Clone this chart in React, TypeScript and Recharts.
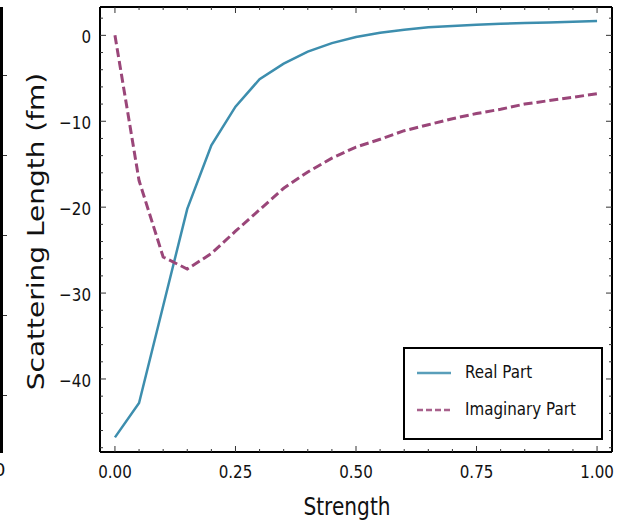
import React from 'react';
import { LineChart, Line, XAxis, YAxis, Legend } from 'recharts';

// coupling strength sampled every 0.05
const STRENGTH = [0, 0.05, 0.1, 0.15, 0.2, 0.25, 0.3, 0.35, 0.4, 0.45, 0.5, 0.55, 0.6, 0.65, 0.7, 0.75, 0.8, 0.85, 0.9, 0.95, 1.0];
const REAL_PART = [-46.8, -42.8, -31.5, -20.2, -12.8, -8.3, -5.1, -3.3, -1.9, -0.9, -0.2, 0.3, 0.66, 0.93, 1.1, 1.24, 1.36, 1.43, 1.5, 1.58, 1.66];
const IMAG_PART = [0, -16.9, -25.8, -27.2, -25.4, -22.8, -20.3, -17.8, -15.9, -14.3, -13.0, -12.1, -11.1, -10.4, -9.7, -9.1, -8.6, -8.0, -7.6, -7.2, -6.8];

const X_MAJOR = [0, 0.25, 0.5, 0.75, 1.0];
const X_TICKS = [0, 0.05, 0.1, 0.15, 0.2, 0.25, 0.3, 0.35, 0.4, 0.45, 0.5, 0.55, 0.6, 0.65, 0.7, 0.75, 0.8, 0.85, 0.9, 0.95, 1.0];
const Y_MAJOR = [-40, -30, -20, -10, 0];
const Y_TICKS = [-48, -46, -44, -42, -40, -38, -36, -34, -32, -30, -28, -26, -24, -22, -20, -18, -16, -14, -12, -10, -8, -6, -4, -2, 0, 2];

const rows = STRENGTH.map((s, i) => ({ s, real: REAL_PART[i], imag: IMAG_PART[i] }));

const FONT = '"DejaVu Sans", sans-serif';
const SQUEEZE = 0.84;
const TICK_COLOR = '#333';
const X_DOMAIN = [-0.031, 1.031];
const Y_DOMAIN = [-48.5, 3.3];

const isMajorX = (v: number) => X_MAJOR.some((m) => Math.abs(m - v) < 1e-6);
const isMajorY = (v: number) => Y_MAJOR.some((m) => Math.abs(m - v) < 1e-6);

const BottomTick = (props: any) => {
  const { x, y, payload } = props;
  const major = isMajorX(payload.value);
  return (
    <g>
      <line x1={x} y1={y} x2={x} y2={y - (major ? 6 : 3)} stroke={TICK_COLOR} strokeWidth={1} />
      {major && (
        <text transform={`translate(${x},${y + 26}) scale(${SQUEEZE},1)`} textAnchor="middle" fontSize={18} fontFamily={FONT} fill="#111">
          {payload.value.toFixed(2)}
        </text>
      )}
    </g>
  );
};

const TopTick = (props: any) => {
  const { x, y, payload } = props;
  const major = isMajorX(payload.value);
  return <line x1={x} y1={y} x2={x} y2={y + (major ? 6 : 3)} stroke={TICK_COLOR} strokeWidth={1} />;
};

const LeftTick = (props: any) => {
  const { x, y, payload } = props;
  const major = isMajorY(payload.value);
  const label = payload.value < 0 ? `\u2212${Math.abs(payload.value)}` : `${payload.value}`;
  return (
    <g>
      <line x1={x} y1={y} x2={x + (major ? 6 : 3)} y2={y} stroke={TICK_COLOR} strokeWidth={1} />
      {major && (
        <text transform={`translate(${x - 9},${y + 8}) scale(${SQUEEZE},1)`} textAnchor="end" fontSize={18} fontFamily={FONT} fill="#111">
          {label}
        </text>
      )}
    </g>
  );
};

const RightTick = (props: any) => {
  const { x, y, payload } = props;
  const major = isMajorY(payload.value);
  return <line x1={x} y1={y} x2={x - (major ? 6 : 3)} y2={y} stroke={TICK_COLOR} strokeWidth={1} />;
};

const YTitle = (props: any) => {
  const { viewBox } = props;
  const cy = viewBox.y + viewBox.height / 2 + 2;
  return (
    <text transform={`translate(44,${cy}) scale(${SQUEEZE},1) rotate(-90)`} textAnchor="middle" fontSize={28} fontFamily={FONT} fill="#111">
      Scattering Length (fm)
    </text>
  );
};

const XTitle = (props: any) => {
  const { viewBox } = props;
  const cx = viewBox.x + viewBox.width / 2 - 9;
  return (
    <text transform={`translate(${cx},515) scale(${SQUEEZE},1)`} textAnchor="middle" fontSize={24} fontFamily={FONT} fill="#111">
      Strength
    </text>
  );
};

const LegendBox = (props: any) => {
  const seen = new Set<string>();
  const entries = (props.payload || []).filter((e: any) => {
    if (e.color === 'none' || e.type === 'none' || seen.has(e.dataKey)) return false;
    seen.add(e.dataKey);
    return true;
  });
  const order = ['real', 'imag'];
  entries.sort((a: any, b: any) => order.indexOf(a.dataKey) - order.indexOf(b.dataKey));
  return (
    <div style={{ width: 200, height: 93, border: '2px solid #000', boxSizing: 'border-box', background: '#fff' }}>
      <svg width={196} height={89} style={{ display: 'block' }}>
        {entries.map((entry: any, i: number) => {
          const ly = i === 0 ? 24 : 61;
          const dashed = entry.dataKey === 'imag';
          return (
            <g key={entry.dataKey}>
              <line x1={12} y1={ly} x2={46} y2={ly} stroke={entry.color} strokeWidth={2.5} strokeDasharray={dashed ? '6 3' : undefined} opacity={0.85} />
              <text transform={`translate(60,${ly + 5}) scale(${SQUEEZE},1)`} fontSize={18} fontFamily={FONT} fill="#111">
                {entry.value}
              </text>
            </g>
          );
        })}
      </svg>
    </div>
  );
};

const App: React.FC = () => {
  return (
    <div style={{ position: 'absolute', left: 0, top: 0, width: 638, height: 524, background: '#fff', overflow: 'hidden' }}>
      {/* edge of the neighbouring panel */}
      <div style={{ position: 'absolute', left: 0, top: 7, width: 3, height: 446, background: '#000' }} />
      {[75, 155, 235, 315, 395].map((t) => (
        <div key={t} style={{ position: 'absolute', left: 3, top: t, width: 4, height: 1, background: TICK_COLOR }} />
      ))}
      <div style={{ position: 'absolute', left: -6, top: 461, fontSize: 18, fontFamily: FONT, color: '#111', lineHeight: '18px' }}>0</div>

      <div style={{ position: 'absolute', left: 0, top: 0 }}>
        <LineChart width={638} height={524} data={rows} margin={{ top: 6, right: 25, bottom: 0, left: 0 }}>
          <XAxis
            xAxisId="b"
            type="number"
            dataKey="s"
            domain={X_DOMAIN}
            ticks={X_TICKS}
            interval={0}
            allowDataOverflow
            height={72}
            tickSize={0}
            tickMargin={0}
            tickLine={false}
            tick={<BottomTick />}
            axisLine={{ stroke: '#000', strokeWidth: 2 }}
            label={{ content: <XTitle /> }}
          />
          <XAxis
            xAxisId="t"
            orientation="top"
            type="number"
            dataKey="s"
            domain={X_DOMAIN}
            ticks={X_TICKS}
            interval={0}
            allowDataOverflow
            height={1}
            tickSize={0}
            tickMargin={0}
            tickLine={false}
            tick={<TopTick />}
            axisLine={{ stroke: '#000', strokeWidth: 2 }}
          />
          <YAxis
            yAxisId="l"
            type="number"
            domain={Y_DOMAIN}
            ticks={Y_TICKS}
            interval={0}
            allowDataOverflow
            width={100}
            tickSize={0}
            tickMargin={0}
            tickLine={false}
            tick={<LeftTick />}
            axisLine={{ stroke: '#000', strokeWidth: 2 }}
            label={{ content: <YTitle /> }}
          />
          <YAxis
            yAxisId="r"
            orientation="right"
            type="number"
            domain={Y_DOMAIN}
            ticks={Y_TICKS}
            interval={0}
            allowDataOverflow
            width={1}
            tickSize={0}
            tickMargin={0}
            tickLine={false}
            tick={<RightTick />}
            axisLine={{ stroke: '#000', strokeWidth: 2 }}
          />
          <Line
            xAxisId="b"
            yAxisId="l"
            type="linear"
            dataKey="real"
            name="Real Part"
            stroke="#3d8eae"
            strokeWidth={2.5}
            dot={false}
            isAnimationActive={false}
          />
          <Line
            xAxisId="b"
            yAxisId="l"
            type="linear"
            dataKey="imag"
            name="Imaginary Part"
            stroke="#9a4679"
            strokeWidth={3}
            strokeDasharray="9 4"
            dot={false}
            isAnimationActive={false}
          />
          {/* invisible twin so the top and right frame axes are drawn */}
          <Line
            xAxisId="t"
            yAxisId="r"
            type="linear"
            dataKey="real"
            stroke="none"
            legendType="none"
            dot={false}
            activeDot={false}
            isAnimationActive={false}
          />
          <Legend
            layout="horizontal"
            verticalAlign="middle"
            align="center"
            content={<LegendBox />}
            wrapperStyle={{ position: 'absolute', left: 403, top: 347, width: 200, height: 93, bottom: 'auto', right: 'auto' }}
          />
        </LineChart>
      </div>
    </div>
  );
};

export default App;
